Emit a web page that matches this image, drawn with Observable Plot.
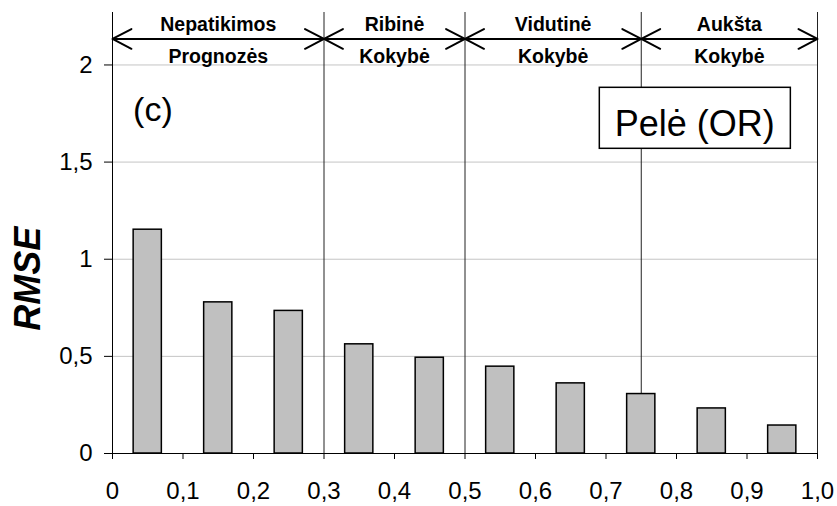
<!DOCTYPE html>
<html>
<head>
<meta charset="utf-8">
<script src="https://cdn.jsdelivr.net/npm/d3@7"></script>
<script src="https://cdn.jsdelivr.net/npm/@observablehq/plot@0.6"></script>
<style>
  body { margin: 0; background: #fff; }
  svg { display: block; }
</style>
</head>
<body>
<div id="chart"></div>
<script>
// ---- data ----
const binCenters = [0.05, 0.15, 0.25, 0.35, 0.45, 0.55, 0.65, 0.75, 0.85, 0.95];
const rmse = [1.152, 0.778, 0.734, 0.562, 0.493, 0.447, 0.361, 0.306, 0.232, 0.144];

const sectionStart = [0, 0.3, 0.5, 0.75];
const sectionEnd = [0.3, 0.5, 0.75, 1.0];
const sectionTop = ["Nepatikimos", "Ribinė", "Vidutinė", "Aukšta"];
const sectionBottom = ["Prognozės", "Kokybė", "Kokybė", "Kokybė"];

const xTicks = [0, 0.1, 0.2, 0.3, 0.4, 0.5, 0.6, 0.7, 0.8, 0.9, 1.0];
const xTickLabels = ["0", "0,1", "0,2", "0,3", "0,4", "0,5", "0,6", "0,7", "0,8", "0,9", "1,0"];
const yTicks = [0, 0.5, 1, 1.5, 2];
const yTickLabels = ["0", "0,5", "1", "1,5", "2"];
const yGrid = [0.5, 1, 1.5, 2];

const panelLabel = ["(c)"];
const seriesLabel = ["Pelė (OR)"];
const yTitle = ["RMSE"];

// ---- derived tables ----
const barWidth = 0.04;
const bars = binCenters.map((c, i) => ({x1: c - barWidth / 2, x2: c + barWidth / 2, y: rmse[i]}));
const sections = sectionStart.map((s, i) => ({
  s, e: sectionEnd[i], m: (s + sectionEnd[i]) / 2, top: sectionTop[i], bottom: sectionBottom[i]
}));
const lookup = (ticks, labels) => d => labels[ticks.findIndex(t => Math.abs(t - d) < 1e-9)] ?? "";

const FONT = "Liberation Sans, Arial, Helvetica, sans-serif";
const arrowStyle = {stroke: "#000", strokeWidth: 2, headAngle: 55, headLength: 16};

const chart = Plot.plot({
  width: 837,
  height: 506,
  marginLeft: 112,
  marginRight: 20,
  marginTop: 12,
  marginBottom: 53,
  style: {fontFamily: FONT, fontSize: "24px", background: "white", color: "black"},
  x: {domain: [0, 1], ticks: xTicks, tickFormat: lookup(xTicks, xTickLabels), tickSize: 6, tickPadding: 22, label: null},
  y: {domain: [0, 2.27], ticks: yTicks, tickFormat: lookup(yTicks, yTickLabels), tickSize: 8, tickPadding: 12, label: null},
  marks: [
    Plot.ruleY(yGrid, {stroke: "#c4c4c4", strokeWidth: 1}),
    Plot.ruleX(sectionEnd, {stroke: "#222", strokeWidth: 1}),
    Plot.rectY(bars, {x1: "x1", x2: "x2", y: "y", fill: "#c0c0c0", stroke: "#000", strokeWidth: 1.5}),
    Plot.ruleX([0], {stroke: "#000", strokeWidth: 1}),
    Plot.ruleY([0], {stroke: "#000", strokeWidth: 1}),
    Plot.arrow(sections, {x1: "m", x2: "s", y1: 2.134, y2: 2.134, ...arrowStyle}),
    Plot.arrow(sections, {x1: "m", x2: "e", y1: 2.134, y2: 2.134, ...arrowStyle}),
    Plot.text(sections, {x: "m", y: 2.208, text: "top", fontSize: 19.5, fontWeight: "bold", fill: "#000"}),
    Plot.text(sections, {x: "m", y: 2.043, text: "bottom", fontSize: 19.5, fontWeight: "bold", fill: "#000"}),
    Plot.text(panelLabel, {x: 0.0573, y: 1.77, text: d => d, fontSize: 34, fill: "#000"}),
    Plot.text(yTitle, {frameAnchor: "left", dx: -84, y: 0.9, text: d => d, rotate: -90, textAnchor: "middle", lineAnchor: "middle", fontSize: 36, fontWeight: "bold", fontStyle: "italic", fill: "#000"}),
    Plot.text(seriesLabel, {x: 0.826, y: 1.692, text: d => d, fontSize: 36, fill: "#000"})
  ]
});

document.getElementById("chart").append(chart);

// white framed box behind the series label, sized from the label itself
d3.select(chart).selectAll("text")
  .filter(function() { return this.textContent === seriesLabel[0]; })
  .each(function() {
    const bb = this.getBBox();
    const r = d3.select(this.parentNode).insert("rect", () => this)
      .attr("x", bb.x - 15.5)
      .attr("y", bb.y - 16)
      .attr("width", bb.width + 31)
      .attr("height", bb.height + 20)
      .attr("fill", "#fff")
      .attr("stroke", "#000")
      .attr("stroke-width", 1.5);
    const tr = this.getAttribute("transform");
    if (tr) r.attr("transform", tr);
  });
</script>
</body>
</html>
